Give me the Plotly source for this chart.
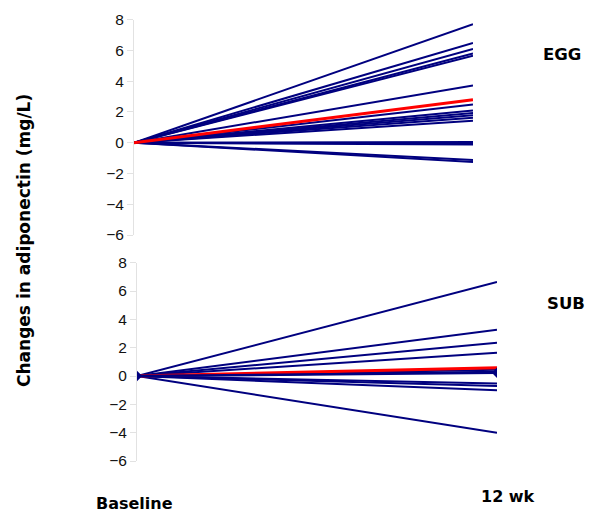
import plotly.graph_objects as go

time_points = [0, 1]
time_labels = ["Baseline", "12 wk"]

egg_changes = [7.70, 6.49, 6.10, 5.80, 5.65, 3.73, 2.49, 2.10, 1.93, 1.78,
               1.63, 1.43, 0.05, -0.05, -0.12, -1.12, -1.25]
egg_mean = 2.80

sub_changes = [6.64, 3.27, 2.35, 1.65, 0.45, 0.30, -0.52, -0.71, -1.01, -4.00]
sub_marked = 0.23
sub_mean = 0.59

y_ticks = [8, 6, 4, 2, 0, -2, -4, -6]
panel_labels = ["EGG", "SUB"]
y_title = "Changes in adiponectin (mg/L)"

NAVY = "#00007F"
RED = "#FF0000"
FONT = "Liberation Sans, Arial, sans-serif"
BFONT = "DejaVu Sans, Liberation Sans, sans-serif"

W, H = 600, 518

def px(x):
    return x / W

def py(y):
    return 1 - y / H

fig = go.Figure()

for v in egg_changes:
    fig.add_trace(go.Scatter(x=time_points, y=[0, v], mode="lines",
                             line=dict(color=NAVY, width=2),
                             xaxis="x", yaxis="y", showlegend=False, hoverinfo="skip"))
fig.add_trace(go.Scatter(x=time_points, y=[0, egg_mean], mode="lines",
                         line=dict(color=RED, width=3),
                         xaxis="x", yaxis="y", showlegend=False))

for v in sub_changes:
    fig.add_trace(go.Scatter(x=time_points, y=[0, v], mode="lines",
                             line=dict(color=NAVY, width=2),
                             xaxis="x2", yaxis="y2", showlegend=False, hoverinfo="skip"))
fig.add_trace(go.Scatter(x=time_points, y=[0, sub_mean], mode="lines",
                         line=dict(color=RED, width=3),
                         xaxis="x2", yaxis="y2", showlegend=False))
fig.add_trace(go.Scatter(x=time_points, y=[0, sub_marked], mode="lines+markers",
                         line=dict(color=NAVY, width=2.5),
                         marker=dict(symbol="diamond", size=8, color=NAVY),
                         xaxis="x2", yaxis="y2", showlegend=False))

yax = dict(range=[-6, 8], tickvals=y_ticks, showgrid=False, zeroline=False,
           showline=True, linecolor="#E2E2E2", linewidth=1,
           ticks="outside", ticklen=6, tickcolor="#E2E2E2",
           tickfont=dict(family=FONT, size=15.5, color="#111111"),
           automargin=False, fixedrange=True)
xax = dict(range=[0, 1], showgrid=False, zeroline=False, showline=False,
           showticklabels=False, ticks="", automargin=False, fixedrange=True)

fig.update_layout(
    width=W, height=H,
    margin=dict(l=0, r=0, t=0, b=0),
    plot_bgcolor="white", paper_bgcolor="white",
    showlegend=False,
    xaxis=dict(xax, domain=[px(134), px(473)], anchor="y"),
    yaxis=dict(yax, domain=[py(235), py(19.7)], anchor="x"),
    xaxis2=dict(xax, domain=[px(137), px(497)], anchor="y2"),
    yaxis2=dict(yax, domain=[py(461), py(262.7)], anchor="x2"),
)

def label(text, x, y, size, angle=0):
    fig.add_annotation(text="<b>%s</b>" % text, x=px(x), y=py(y),
                       xref="paper", yref="paper", showarrow=False,
                       xanchor="center", yanchor="middle", textangle=angle,
                       font=dict(family=BFONT, size=size, color="black"))

label(panel_labels[0], 562, 54, 16.5)
label(panel_labels[1], 566, 303, 16.5)
label(time_labels[0], 134, 503, 16)
label(time_labels[1], 508, 496, 16)
label(y_title, 24, 241, 17, angle=-90)

fig.write_html("out.html", config={"displayModeBar": False},
               post_script="document.body.style.margin='0';")
